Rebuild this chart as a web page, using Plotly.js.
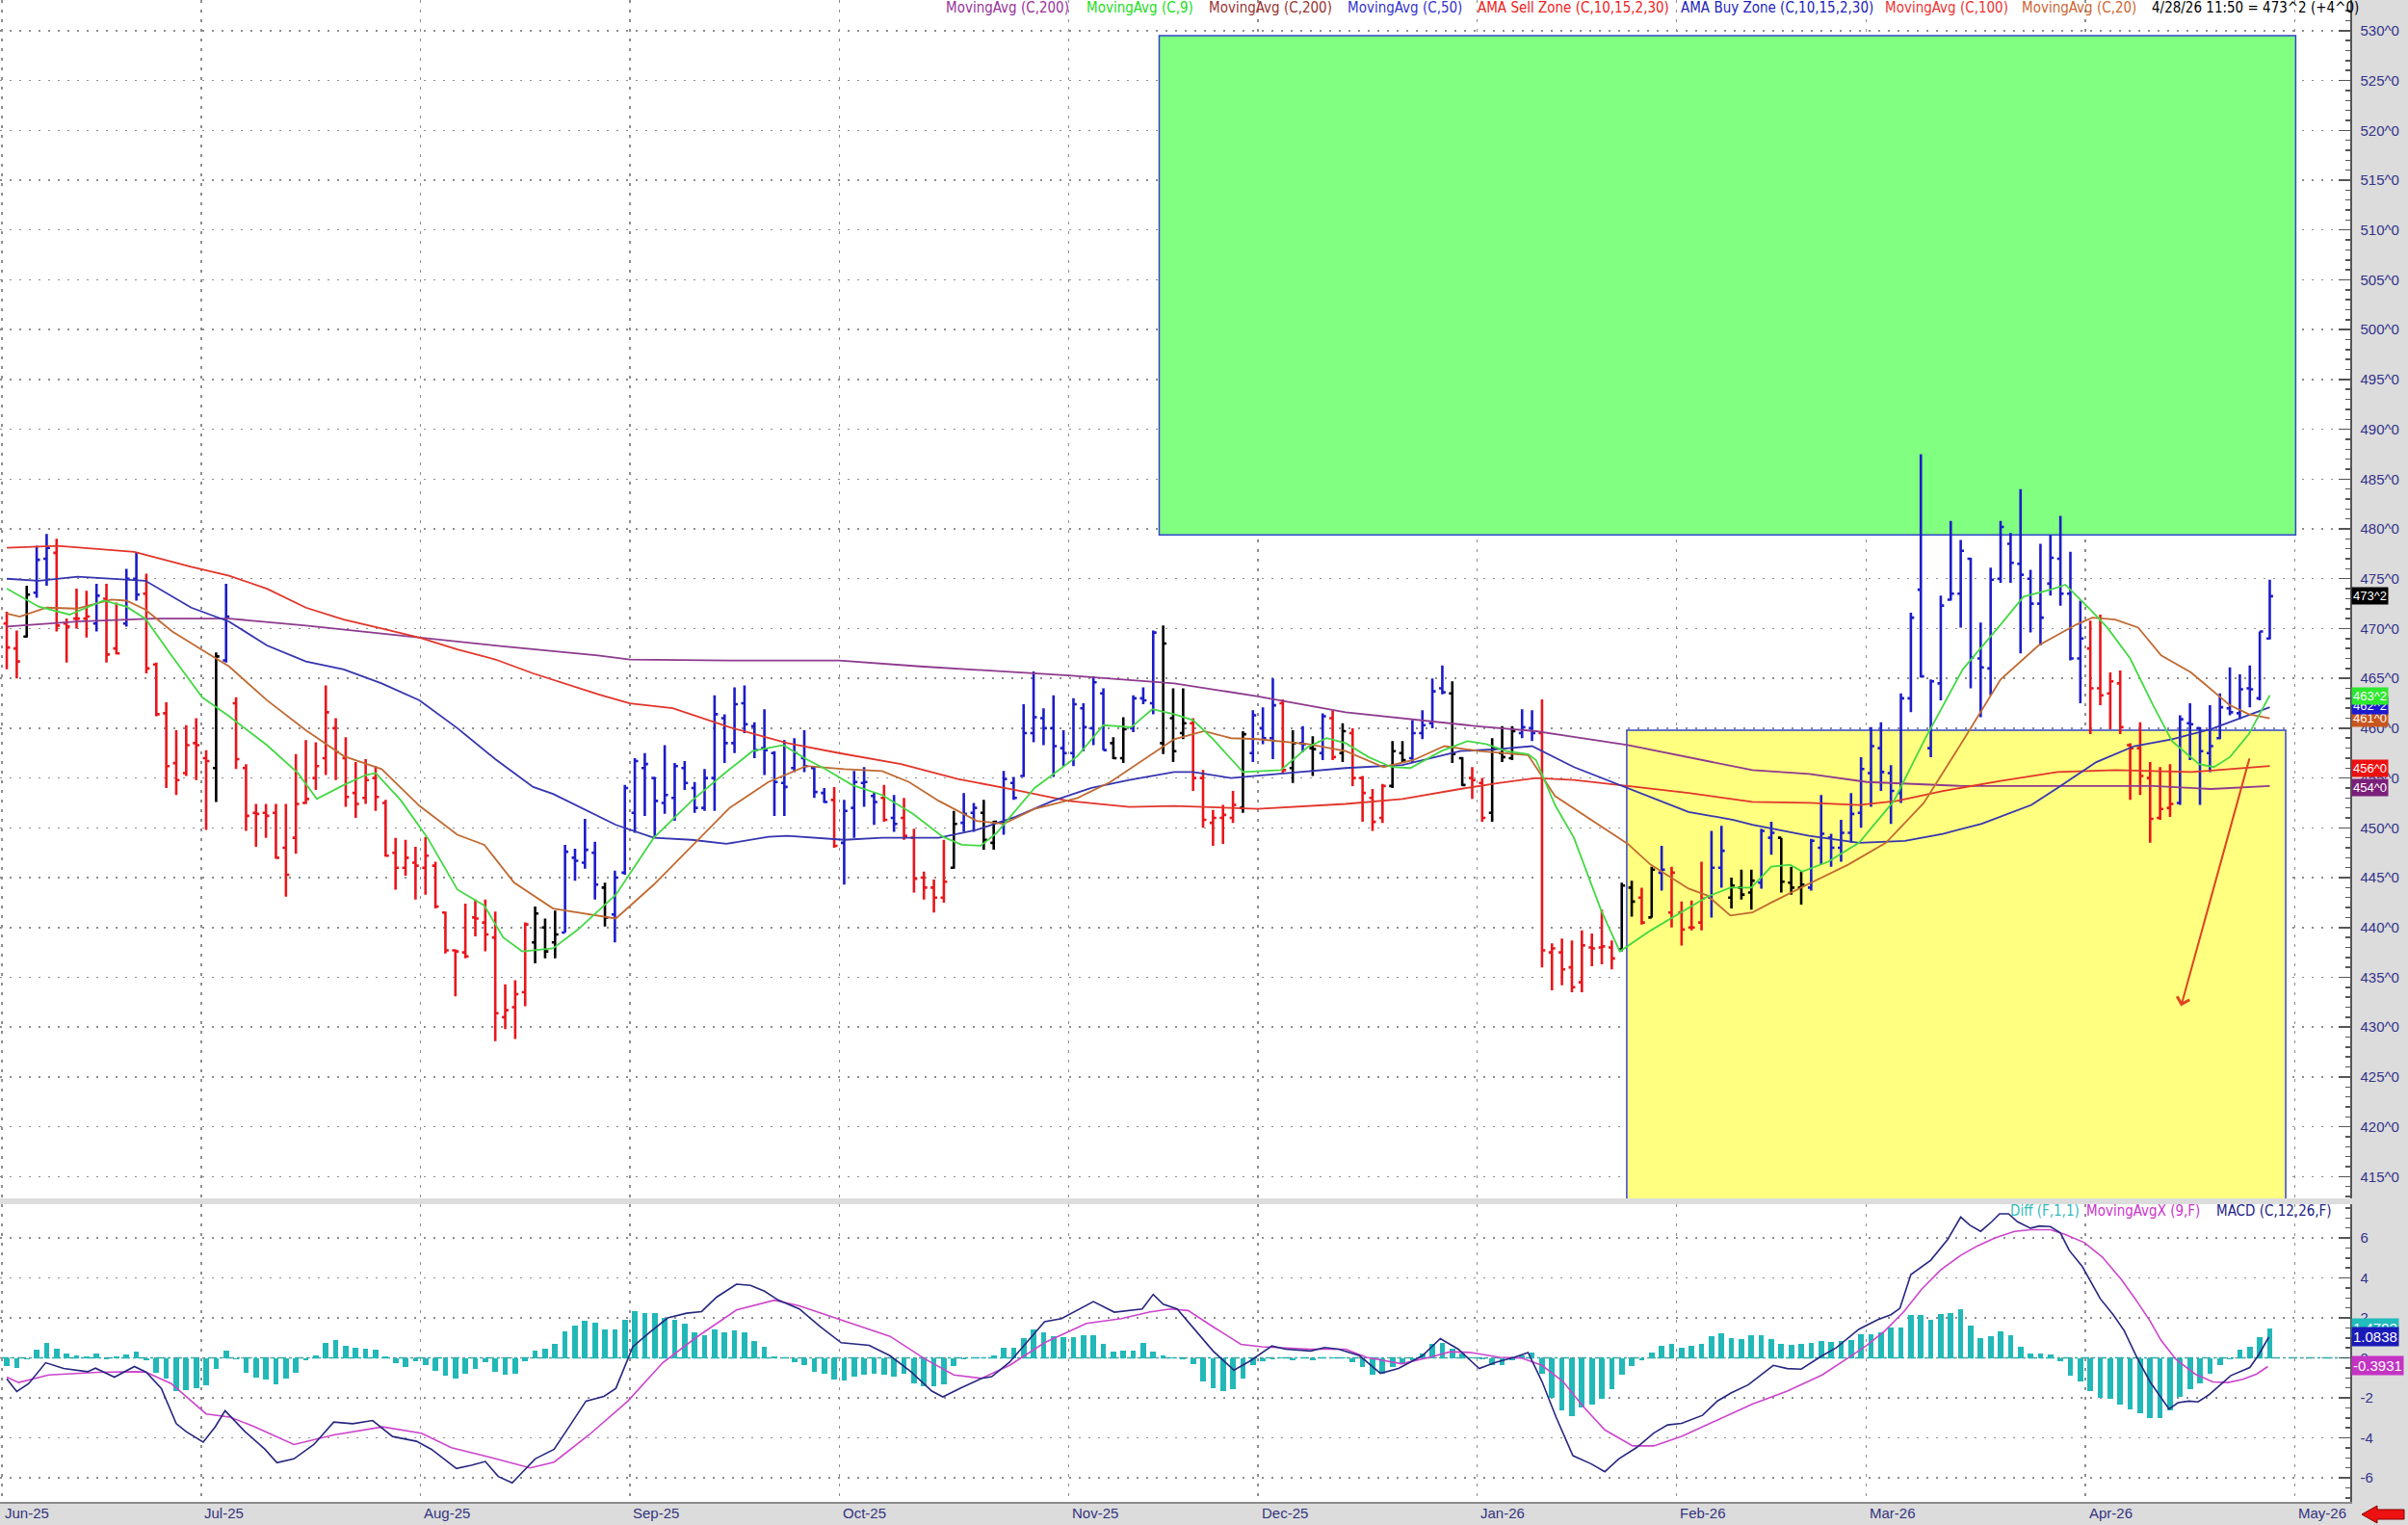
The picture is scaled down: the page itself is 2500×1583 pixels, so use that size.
<!DOCTYPE html>
<html><head><meta charset="utf-8">
<script src="https://cdn.plot.ly/plotly-3.0.1.min.js"></script>
<style>html,body{margin:0;padding:0;background:#d9d9d9;}#chart{width:2500px;height:1583px;}</style>
</head><body><div id="chart"></div>
<script>
// ---------- DATA ----------
const monthStarts = [0,20,42,63,84,107,126,148,168,187,209,230];
const monthLabels = ['Jun-25','Jul-25','Aug-25','Sep-25','Oct-25','Nov-25','Dec-25','Jan-26','Feb-26','Mar-26','Apr-26','May-26'];
const priceTicks = [415,420,425,430,435,440,445,450,455,460,465,470,475,480,485,490,495,500,505,510,515,520,525,530];
const priceTickText = ['415^0','420^0','425^0','430^0','435^0','440^0','445^0','450^0','455^0','460^0','465^0','470^0','475^0','480^0','485^0','490^0','495^0','500^0','505^0','510^0','515^0','520^0','525^0','530^0'];
const macdTicks = [-6,-4,-2,0,2,4,6];
const macdTickText = ['-6','-4','-2','0','2','4','6'];

const opens = [470.5,468,469.2,473.6,477,477.6,470.5,471,471,470.5,
473,468,470.5,475,473.5,466.4,461.5,456.5,455.5,458.5,
457,456,466.8,462.5,456,451.5,451.5,451.5,448,449,
452.5,455,457,460,457,453.5,453,455,452.5,447.5,
446,446.5,446,446.2,441.5,437.7,437.5,441,440.5,439,
431,432,433.5,438.5,440,438.5,439.5,447,446.5,447.5,
444,441.3,445.5,451.5,456,455,452.5,453,456,454,
452,455,461,458.5,462.5,460.2,458,457.5,454.5,456,
457,456,453.5,452.8,448.5,452,454.5,453.2,453,451,
451,449,445,444,443,446,450.5,451.5,451.5,448.5,
450.5,454.5,455.2,459.5,461,460,458,457.5,462,460,
463.5,458.5,457,460,463,462.5,458.5,461,459.5,460.5,
455,450.5,451,451,452,457.5,460,459,462.5,456,
458.5,458,457.5,461,457.5,459.5,455,453,451,454.2,
457.5,457,459.5,460.5,464,463.5,457,455,454.5,451.5,
457.5,457,459.5,460,459.5,437.5,437.5,436,434.5,438,
438,438,437.8,444,443,441,445.5,441.5,441.5,440,
440.5,443,446,443,444,443.5,444.5,449,449,444.5,
444,444,448,449,448,449.5,451.5,455.5,458,455.5,
453.5,463,473.9,458,464.5,472.9,473.5,477,467,466,
475,478.5,476.5,475,472.5,474.5,477,473.5,467,468,
464,463.5,464.5,458.3,458,455,451,452,452.5,460.5,
460,457.5,459,462,461.5,464,463,469];
const highs = [471.7,469.8,474.3,478.3,479.5,479.0,471.0,474.0,473.8,474.5,
474.5,472.6,476.0,477.6,475.5,466.6,462.6,459.8,460.3,461.0,
457.8,467.6,474.5,463.1,456.4,452.4,452.4,452.4,452.4,457.4,
458.8,458.6,464.3,461.0,459.1,456.6,456.9,456.2,452.8,449.0,
448.8,448.1,449.1,446.6,441.6,437.8,442.4,442.8,442.8,441.6,
434.3,434.7,440.5,442.1,440.9,441.7,448.3,447.9,450.9,448.6,
444.5,445.7,454.3,457.0,457.5,455.1,458.3,456.5,456.7,454.6,
455.9,463.3,461.4,464.1,464.3,460.6,461.9,457.7,458.8,459.0,
459.8,456.2,454.0,454.1,452.8,455.7,456.1,453.6,454.3,453.3,
453.0,449.9,445.6,444.8,448.8,451.7,453.5,452.5,452.8,450.7,
455.7,455.1,462.4,465.7,462.0,463.3,459.8,463.0,462.5,465.2,
464.0,459.1,461.1,463.3,464.1,469.8,470.3,464.0,464.0,461.0,
455.8,451.8,452.3,453.7,459.7,461.8,462.1,465.0,462.9,459.8,
460.2,459.2,461.5,461.8,460.5,460.0,455.2,453.9,454.4,458.7,
458.7,460.8,461.8,465.0,466.3,464.7,457.1,456.1,455.0,459.0,
460.2,460.2,461.9,461.8,462.9,438.4,438.9,438.7,439.7,439.4,
441.8,438.7,444.5,444.7,444.0,446.1,448.2,446.1,442.6,442.7,
446.6,449.7,450.2,445.0,445.8,445.8,449.9,450.6,449.0,446.1,
445.6,448.9,453.3,449.4,450.8,453.5,457.1,460.1,460.6,456.3,
463.5,471.6,487.5,464.9,473.3,480.8,478.9,477.1,470.6,476.1,
480.8,479.6,484.0,475.9,478.5,479.4,481.3,477.7,472.8,470.8,
471.4,465.6,465.8,458.5,460.6,456.6,456.1,456.4,461.3,462.5,
460.1,462.3,463.5,466.1,465.4,466.3,469.7,474.9];
const lows = [465.9,465.0,469.1,473.1,474.3,469.7,466.6,470.0,469.1,469.7,
466.6,467.4,470.2,472.8,465.5,461.2,454.0,453.3,455.2,454.8,
449.8,452.6,466.6,455.9,449.7,448.1,449.0,446.9,443.1,447.4,
452.4,453.8,455.3,454.8,452.1,451.0,452.4,451.7,447.1,443.8,
445.2,442.8,443.3,441.9,437.4,433.1,436.9,439.1,437.6,428.6,
429.8,428.8,432.1,436.4,436.9,436.9,439.5,444.7,445.9,442.8,
440.1,438.5,445.3,449.5,451.2,449.0,451.4,450.7,453.8,451.5,
451.7,451.7,456.5,457.5,459.5,457.0,455.3,451.2,451.2,455.6,
455.6,453.0,452.5,448.0,444.3,449.0,452.1,450.3,450.6,449.6,
448.8,443.5,442.8,441.5,442.5,445.9,449.6,449.6,447.8,447.8,
449.3,452.8,455.1,458.6,458.3,455.1,456.2,456.2,457.7,458.3,
457.8,456.9,456.5,459.6,462.4,461.4,457.4,456.6,458.9,453.7,
450.0,448.2,448.4,450.5,451.5,456.6,458.4,456.9,455.5,454.5,
457.6,455.2,456.8,456.8,456.6,454.2,450.6,449.7,450.5,454.0,
456.5,456.5,458.9,460.0,463.4,456.5,454.2,452.9,450.6,450.6,
456.6,456.8,459.0,458.7,436.0,433.7,434.2,433.5,433.5,436.1,
436.3,435.8,437.6,441.1,440.3,441.0,443.7,440.0,438.2,439.7,
439.7,441.0,444.0,441.9,442.8,441.8,443.9,447.3,443.5,443.3,
442.3,443.7,446.3,446.1,446.6,448.5,450.0,452.1,453.7,450.4,
452.5,461.6,465.1,457.1,462.8,472.8,470.1,464.0,461.1,463.3,
474.6,474.6,467.5,469.6,468.3,473.3,472.3,466.8,462.5,459.4,
462.3,459.9,459.4,452.8,453.3,448.5,450.8,451.1,452.3,456.8,
452.3,455.6,458.9,461.3,460.9,462.1,462.8,468.9];
const closes = [468.1,466.7,473.4,476.9,478.1,470.3,470.2,471.0,471.2,473.3,
467.4,467.5,475.0,473.4,466.0,461.4,456.2,454.8,458.3,458.3,
456.7,467.2,471.2,456.9,451.2,451.4,451.2,447.0,445.3,452.4,
452.9,456.2,461.6,457.6,453.1,452.4,454.8,453.1,447.2,446.0,
447.0,446.2,447.2,442.1,437.7,437.6,437.1,440.9,439.3,431.4,
431.7,433.3,440.3,441.4,437.6,439.3,447.6,446.7,447.8,444.3,
441.0,445.0,454.0,456.7,456.4,452.7,453.3,456.2,454.5,452.0,
455.0,461.4,458.5,462.4,460.4,457.8,457.8,454.6,454.1,457.5,
456.2,453.6,452.6,448.2,451.7,454.6,454.6,452.6,450.8,450.4,
449.2,444.9,444.0,443.0,444.6,450.4,451.4,452.0,448.8,450.6,
454.9,453.0,459.5,461.1,460.0,458.2,457.5,462.4,460.1,464.6,
457.8,457.0,459.9,463.0,462.8,469.6,468.5,457.7,460.5,455.0,
450.8,451.0,451.3,452.3,459.4,461.3,459.0,462.3,455.8,458.5,
458.4,457.9,461.2,457.1,459.7,455.0,453.5,450.6,454.2,457.7,
456.8,459.5,460.3,463.7,463.6,457.4,454.3,454.8,451.0,457.9,
457.1,459.7,460.1,459.5,437.7,437.9,435.8,434.0,438.2,437.9,
438.1,436.9,444.2,442.6,440.5,445.8,445.8,445.5,439.8,440.0,
442.9,446.0,447.7,444.2,443.3,444.7,449.7,449.5,444.6,444.0,
444.3,448.7,449.4,448.0,449.5,451.4,455.9,458.2,455.6,453.7,
463.0,471.1,465.2,464.7,472.3,473.5,477.8,467.1,466.1,474.9,
480.2,476.6,475.4,472.5,471.1,477.1,473.5,467.0,469.0,464.0,
463.3,464.7,460.1,458.0,455.2,450.9,451.9,452.4,460.9,460.4,
457.7,458.2,462.1,461.6,463.9,463.9,469.7,473.25];
// bar trend colour: R = red, B = blue, K = black
const barColor = ['R','R','K','B','B','R','R','R','R','B',
'R','R','B','B','R','R','R','R','R','R',
'R','K','B','R','R','R','R','R','R','R',
'R','R','R','R','R','R','R','R','R','R',
'R','R','R','R','R','R','R','R','R','R',
'R','R','R','K','K','K','B','B','B','B',
'K','B','B','B','B','B','B','B','B','B',
'B','B','B','B','B','B','B','B','B','B',
'B','B','B','R','B','B','B','B','R','B',
'R','R','R','R','R','K','B','B','K','K',
'B','B','B','B','B','B','B','B','B','B',
'B','K','K','B','B','B','K','K','K','R',
'R','R','R','R','K','B','B','B','R','K',
'B','K','B','R','K','R','R','R','R','K',
'K','B','B','B','B','K','K','R','R','K',
'K','K','B','B','R','R','R','R','R','R',
'R','R','K','K','R','K','B','R','R','R',
'R','B','B','K','K','K','B','B','K','K',
'K','B','B','B','B','B','B','B','B','B',
'B','B','B','B','B','B','B','B','B','B',
'B','B','B','B','B','B','B','B','B','R',
'R','R','R','R','R','R','R','R','B','B',
'B','B','B','B','B','B','B','B'];

const ma9X = [0,3.2,6.3,9.7,12,13.9,16.6,19.6,22.3,26.1,29.2,31.1,33.8,36,37,39.5,42.2,45.2,47.9,49.8,51.7,54.8,57.3,61.1,64.9,68.7,71.8,74.8,77.9,80.2,82.1,84.8,87.8,90.9,93.9,95.8,97.7,99.3,103.1,107.4,110,112.8,114.9,117.1,119,120.9,124,127.8,130.5,132.4,134.3,136.6,138.9,140.8,143.9,146.5,148.4,150.4,152.6,153.4,155.3,157.2,159.9,161.8,164.9,167.9,170.6,172.9,175,177,178.9,180.1,182.7,185.8,189.3,192.3,196.2,200,202.3,205,206.5,208.8,210.7,213,215.3,217.2,219.9,221.4,223,224.9,227];
const ma9Y = [474.0,472.2,471.4,472.8,472.2,471,467.2,463.1,461.2,458.3,455.5,452.9,454.3,455.3,455.5,452.8,449,443.8,442.2,439,437.6,437.9,439.8,443.3,449,452.7,455.3,457.7,458.3,456.9,455.9,454.3,453.3,451.4,449.1,448.3,448.2,449.5,454,457.2,460.3,460.1,461.9,461.4,460.8,459,455.6,455.8,458.1,459,458.5,457.1,456.1,456,457.7,458.7,458.4,457.7,457.4,456.8,452.3,449,441.8,437.6,439.7,441.5,443.1,444,444,446.1,446.3,445.6,446.6,448.5,452.7,458.7,465.9,470.4,473.2,473.9,474.4,472.1,470.1,467,462.3,458.7,456.4,456.1,457.1,459.4,463.3];
const ma20X = [0,1.3,4,7,10.5,12,13.9,16.6,20,22.3,26.1,30,33.8,37.6,41.4,45.2,47.9,50.9,54.8,59.3,61.1,64.9,68.7,72.5,76.4,80.2,84,87.8,90.5,93.5,97.3,100,103.1,107.4,110.7,114.5,117.1,120.1,122.8,125.5,130.5,134.3,138.1,141.1,144.2,147.7,152.6,155.3,159.2,162.6,164.9,168.7,170.6,172.9,175.1,177,180.8,184.7,188.5,192.3,196.2,200,203.8,207.6,209.2,211.5,213.8,216.1,219.1,221.1,223,224.9,227];
const ma20Y = [471.5,471.2,472.1,472,472.9,472.8,471.9,469.7,467.6,466.2,462.8,459.8,457.2,455.9,452.2,449.3,448.3,444.5,441.9,441.2,440.9,444.3,448.2,452,454.6,456.2,455.9,455.7,454.6,452.7,450.7,450.4,451.9,453,454.6,457.2,458.9,459.7,459,458.9,458.4,457.7,456.1,456.8,458.2,457.7,457.3,453.2,450.6,448.4,446.3,443.9,443.2,441.2,441.5,442.5,444.4,446.3,448.5,452.5,458.7,464.9,468.3,470.4,471.1,470.9,470.1,467.3,465.6,463.9,462.3,461.4,461];
const ma50X = [0,3.2,7.1,10.9,13.9,18.5,22.3,26.1,30,33.8,37.6,41.4,45.2,49,52.8,54.8,59.3,61.1,64.9,68.7,72.2,76.4,78.3,84,87.8,93.5,97.3,101.2,104.9,108.8,112.6,117.1,119,122.8,128.6,134.3,140,145.8,149.6,153,157.2,162.6,168.7,173.2,175.1,180.8,185.8,190.4,194.2,198.1,203.1,205.7,209.6,213.4,217.2,221.1,227];
const ma50Y = [475,474.8,475.2,475,474.8,472.1,470.7,468.3,466.7,465.9,464.5,462.8,460,456.9,454.1,453.4,451.2,450.3,449,448.8,448.4,449.1,449.2,448.8,449,449,449.8,451.1,452.7,454,454.8,455.6,455.6,455,455.5,456,456.3,457.7,457.9,458.2,456.1,454,451.6,450.8,450.3,449.2,448.5,448.7,449.4,450.4,452.3,454.0,456.6,458.2,458.9,459.9,462.1];
const ma100X = [0,5.1,12.8,18.5,22.3,26.1,30,33.8,37.6,41.4,45.2,49,52.8,59.3,62.5,66.8,72.5,78.3,83.5,89.7,95.4,101.2,106.5,112.6,117.1,125.5,134.3,140,145.8,149.6,153.4,157.2,162.6,168.7,175.1,180.8,185.8,189.6,194.2,200,205.7,211.5,219.1,227];
const ma100Y = [478.1,478.3,477.7,476.2,475.3,474,472.1,470.9,470,469.1,467.9,466.9,465.5,463.4,462.5,462,460.1,458.5,457.5,456.4,454.9,453.8,452.7,452.1,452.2,451.9,452.4,452.9,453.9,454.5,455,454.8,454.2,453.5,452.6,452.5,452.3,452.7,453.7,454.7,455.6,455.8,455.6,456.2];
const ma200X = [0,7.1,14.7,22.3,30,37.6,41.4,49,59.3,62.5,72.5,83.5,91.6,99.3,106.5,117.1,125.5,134.3,147.5,153.4,162.6,175.1,180.8,186.6,196.2,207.6,215.3,221.1,227];
const ma200Y = [470.2,470.7,471,471,470.3,469.5,469.1,468.3,467.3,466.9,466.8,466.8,466.2,465.7,465.3,464.5,463.2,461.6,460.2,459.7,458.3,455.8,455.4,454.6,454.2,454.2,454.2,453.9,454.2];

// AMA zones
const sellZoneX = [115.6, 229.6];
const sellZoneY = [479.4, 529.5];
const buyZoneX = [162.5, 228.6];
const buyZoneY = [405, 459.8];
// hand-drawn arrow: start (x,y) -> end (x,y)
const drawnArrow = [225.0, 457.1, 218.1, 432.1];

// MACD panel
const macdHist = [-0.4,-0.48,-0.05,0.4,0.77,0.45,0.24,0.11,0.08,0.24,
-0.05,0.08,0.16,0.32,-0.13,-0.72,-1.04,-1.68,-1.6,-1.52,
-1.39,-0.56,0.35,-0.05,-0.72,-0.96,-1.07,-1.33,-1.04,-0.72,
-0.11,0.11,0.77,0.88,0.62,0.53,0.48,0.43,0.08,-0.27,
-0.43,-0.16,-0.37,-0.64,-0.91,-1.04,-0.8,-0.53,-0.19,-0.69,
-0.83,-0.8,-0.16,0.37,0.45,0.69,1.33,1.63,1.88,1.75,
1.41,1.44,1.92,2.36,2.24,2.24,2.0,1.92,1.71,1.28,
1.12,1.41,1.28,1.39,1.28,0.86,0.54,0.1,0.01,-0.2,
-0.37,-0.69,-0.77,-1.1,-1.15,-0.94,-0.85,-0.77,-0.85,-0.94,
-0.77,-1.26,-1.42,-1.42,-1.31,-0.4,-0.05,0.02,0.02,0.11,
0.52,0.52,1.0,1.44,1.27,1.08,1.05,1.05,1.16,1.16,
0.68,0.31,0.35,0.35,0.76,0.31,0.11,0.02,-0.05,-0.29,
-1.18,-1.5,-1.66,-1.58,-1.02,-0.37,-0.18,-0.05,0.02,-0.1,
0.02,-0.13,0.03,0.02,0.02,-0.21,-0.45,-0.82,-0.77,-0.45,
-0.29,-0.1,0.24,0.68,0.76,0.47,0.24,0.02,-0.08,-0.37,
-0.34,-0.13,0.11,0.27,-0.77,-1.98,-2.63,-2.9,-2.47,-2.31,
-2.06,-1.58,-0.85,-0.4,-0.13,0.27,0.63,0.68,0.52,0.63,
0.68,1.11,1.21,1.0,0.92,1.16,1.16,0.92,0.68,0.65,
0.71,0.76,0.87,0.78,0.86,0.91,1.2,1.2,1.28,1.52,
1.52,2.16,2.13,1.92,2.2,2.24,2.44,1.63,1.01,1.07,
1.31,1.12,0.56,0.24,0.24,0.16,-0.16,-0.88,-1.2,-1.68,
-2.0,-2.04,-2.32,-2.56,-2.77,-3.01,-3.01,-2.64,-1.97,-1.57,
-1.28,-0.8,-0.35,-0.05,0.43,0.56,1.04,1.47];
const macdX = [0,1.0,2.2,3.9,5.7,8.1,8.9,10.8,12.8,14.0,15.5,17.0,18.0,19.7,20.9,21.9,23.9,25.9,27.1,28.8,30.8,32.8,34.7,36.7,38.7,41.1,42.6,45.1,46.6,48.0,49.3,50.7,53.0,54.9,56.4,58.1,59.9,61.1,62.8,64.3,66.3,68.2,69.7,71.2,73.2,74.6,76,77.4,79.5,81.6,83.7,86.5,88.6,90.7,92.8,93.9,95.7,97.8,98.8,100.6,102.7,104.1,105.8,107.3,109,111.1,112.9,113.9,115,116,117.4,119.5,121,123.1,124.8,126.9,128.3,130.8,132.2,133.6,135.7,137.8,139.6,142,143.8,145.6,147.7,149.4,151.2,152.6,154,155.4,157.1,158.9,160.3,161.7,163.5,165.2,166.6,168,170.1,171.6,173,174.7,177.2,178.6,180,182.1,183.5,185.8,187.7,189,189.9,191,191.9,193,194.7,196,196.9,198,199.1,199.9,200.8,201.7,203,203.9,205,206,206.9,208.2,210,211.3,212.4,213.7,215,216.1,216.9,217.8,218.9,219.8,220.9,222,223.1,225,225.9,226.9];
const macdY = [-1.04,-1.68,-1.28,-0.24,-0.53,-0.69,-0.51,-0.96,-0.43,-0.72,-1.52,-3.29,-3.69,-4.21,-3.45,-2.64,-3.69,-4.57,-5.24,-5.05,-4.33,-3.21,-3.29,-3.13,-3.93,-4.17,-4.57,-5.53,-5.37,-5.18,-5.93,-6.25,-5.05,-4.57,-3.45,-2.16,-1.92,-1.52,0.56,1.2,2.0,2.24,2.32,3.04,3.69,3.63,3.34,2.89,2.45,1.56,0.76,0.63,0.11,-0.69,-1.66,-1.95,-1.5,-1.02,-0.94,-0.21,1.0,1.81,1.97,2.37,2.82,2.29,2.37,2.45,3.18,2.69,2.45,1.24,0.35,-0.61,-0.13,0.6,0.44,0.35,0.52,0.44,0.11,-0.77,-0.53,0.11,0.97,0.44,-0.53,-0.21,0.03,0.27,-1.18,-2.95,-4.89,-5.29,-5.69,-5.05,-4.48,-3.76,-3.35,-3.27,-2.87,-2.15,-1.74,-1.34,-0.37,-0.53,-0.56,0.11,0.5,1.44,1.92,2.16,2.48,4.17,4.49,4.89,5.93,7.05,6.65,6.33,6.81,7.21,7.21,6.81,6.49,6.6,6.57,6.25,5.37,4.57,2.96,2.16,1.36,0,-1.2,-2.0,-2.56,-2.24,-2.16,-2.2,-1.84,-1.36,-0.88,-0.48,0.16,1.04];
const signalX = [0,1.2,4.2,9.1,13.1,14,16.5,20,22.4,24.9,28.8,32.8,37.7,41.6,44.6,48.5,52.5,54.9,58.4,62.3,65.8,69.2,73.2,77,79.5,83.7,88.6,92.1,95,97.8,100.6,104.1,108.3,111.8,114.6,116.7,118.5,121,123.8,125.9,130.8,134.3,136.4,139.9,142.7,144.8,146.9,149.8,151.9,154,156.1,158.2,160.3,163.1,165.2,168,171.6,175.1,178.6,182.1,184.7,186.6,188.4,190.3,192.1,194,196,197.7,199.5,201.4,203,205,206.5,208.4,210.2,212.1,213.5,215,216.1,217.6,219.5,221.3,222.8,224.3,225.7,226.8];
const signalY = [-0.96,-1.23,-0.85,-0.72,-0.69,-0.72,-1.28,-2.8,-2.96,-3.45,-4.33,-3.85,-3.45,-3.77,-4.49,-4.97,-5.5,-5.21,-3.85,-2.16,-0.24,1.04,2.4,2.89,2.61,1.89,1.08,-0.05,-0.85,-1.02,-0.37,0.76,1.73,1.97,2.29,2.45,2.37,1.56,0.68,0.56,0.44,0.44,0.03,-0.29,0.03,0.31,0.27,0.03,0,-0.37,-1.18,-2.47,-3.6,-4.4,-4.4,-3.92,-3.11,-2.31,-1.66,-0.85,0,0.64,1.36,2.32,3.45,4.41,5.13,5.61,6.01,6.33,6.41,6.41,6.17,5.77,5.05,3.93,2.96,1.84,0.88,-0.08,-0.8,-1.2,-1.23,-1.07,-0.8,-0.43];

// last-value tags on the right axes
const priceTagVals = [473.25, 461.0, 462.25, 463.25, 456.0, 454.0];
const priceTagText = ['473^2','461^0','462^2','463^2','456^0','454^0'];
const priceTagColor = ['#000000','#c8561e','#1a1ad0','#2ee82e','#ee1111','#7b1f7b'];
const macdTagVals = [1.4792, 1.0838, -0.3931];
const macdTagText = ['1.4792','1.0838','-0.3931'];
const macdTagColor = ['#22bcbc','#1a1ab8','#c433c4'];

const topLegendText = ['MovingAvg (C,200)','MovingAvg (C,9)','MovingAvg (C,200)','MovingAvg (C,50)','AMA Sell Zone (C,10,15,2,30)','AMA Buy Zone (C,10,15,2,30)','MovingAvg (C,100)','MovingAvg (C,20)','4/28/26 11:50 = 473^2 (+4^0)'];
const topLegendColor = ['#993399','#22dd22','#993333','#3333cc','#ee2222','#2222bb','#ee3333','#cc6633','#000000'];
const topLegendPos = [980,1126,1253,1397,1532,1743,1955,2097,2232];
const macdLegendText = ['Diff (F,1,1)','MovingAvgX (9,F)','MACD (C,12,26,F)'];
const macdLegendColor = ['#33bbbb','#cc33cc','#222288'];
const macdLegendPos = [2085,2164,2299];

// ---------- BUILD ----------
const PW = 2440, PH = 1559;
const colorMap = {R:'#e8161b', B:'#1c1cc8', K:'#000000'};
const traces = [];
const maDefs = [
  [ma200X, ma200Y, '#8e3a8e'],
  [ma100X, ma100Y, '#e2352a'],
  [ma50X, ma50Y, '#3535b0'],
  [ma20X, ma20Y, '#c06a32'],
  [ma9X, ma9Y, '#44d844']
];
maDefs.forEach(d => traces.push({type:'scatter', mode:'lines', x:d[0], y:d[1], xaxis:'x', yaxis:'y',
  line:{color:d[2], width:1.8}, hoverinfo:'skip', showlegend:false}));

['R','B','K'].forEach(code => {
  const xs=[],o=[],h=[],l=[],c=[];
  barColor.forEach((bc,i)=>{ if(bc===code){ xs.push(i); o.push(opens[i]); h.push(highs[i]); l.push(lows[i]); c.push(closes[i]); }});
  traces.push({type:'ohlc', x:xs, open:o, high:h, low:l, close:c, xaxis:'x', yaxis:'y',
    increasing:{line:{color:colorMap[code], width:2.6}}, decreasing:{line:{color:colorMap[code], width:2.6}},
    line:{width:2.6}, tickwidth:0.33, hoverinfo:'skip', showlegend:false});
});

traces.push({type:'bar', x:macdHist.map((v,i)=>i), y:macdHist, xaxis:'x', yaxis:'y2',
  marker:{color:'#22b8b8', line:{width:0}}, width:0.55, hoverinfo:'skip', showlegend:false});
traces.push({type:'scatter', mode:'lines', x:signalX, y:signalY, xaxis:'x', yaxis:'y2',
  line:{color:'#cc44cc', width:1.6}, hoverinfo:'skip', showlegend:false});
traces.push({type:'scatter', mode:'lines', x:macdX, y:macdY, xaxis:'x', yaxis:'y2',
  line:{color:'#262680', width:1.6}, hoverinfo:'skip', showlegend:false});

const shapes = [
  {type:'rect', xref:'x', yref:'y', x0:sellZoneX[0], x1:sellZoneX[1], y0:sellZoneY[0], y1:sellZoneY[1],
    fillcolor:'#80ff80', line:{color:'#3344cc', width:1.5}, layer:'between'},
  {type:'rect', xref:'x', yref:'y', x0:buyZoneX[0], x1:buyZoneX[1], y0:buyZoneY[0], y1:buyZoneY[1],
    fillcolor:'#ffff80', line:{color:'#3344cc', width:1.5}, layer:'between'},
  {type:'line', xref:'paper', yref:'y2', x0:0, x1:1, y0:0, y1:0,
    line:{color:'#2aaaaa', width:1.5, dash:'dashdot'}, layer:'between'}
];
// small red arrow icon bottom right (paper coords)
const px = v => v / PW, py = v => (PH - v) / PH;
shapes.push({type:'path', xref:'paper', yref:'paper',
  path:`M${px(2452)},${py(1572)} L${px(2468)},${py(1563)} L${px(2468)},${py(1567)} L${px(2496)},${py(1567)} L${px(2496)},${py(1577)} L${px(2468)},${py(1577)} L${px(2468)},${py(1581)} Z`,
  fillcolor:'#ee1111', line:{color:'#880000', width:1}, layer:'above'});

const annotations = [];
const narrow = 'Liberation Sans Narrow, Arial Narrow, DejaVu Sans Condensed, sans-serif';
topLegendText.forEach((t,i)=>annotations.push({xref:'paper', yref:'paper', x:px(topLegendPos[i]), y:py(8),
  xanchor:'left', yanchor:'middle', text:t, showarrow:false, font:{family:narrow, size:15, color:topLegendColor[i]}}));
macdLegendText.forEach((t,i)=>annotations.push({xref:'paper', yref:'paper', x:px(macdLegendPos[i]), y:py(1257),
  xanchor:'left', yanchor:'middle', text:t, showarrow:false, font:{family:narrow, size:15, color:macdLegendColor[i]}}));
monthLabels.forEach((t,i)=>annotations.push({xref:'x', yref:'paper', x:monthStarts[i]-0.35, y:py(1570),
  xanchor:'left', yanchor:'middle', text:t, showarrow:false, font:{family:'Liberation Sans, Arial, sans-serif', size:15, color:'#34347e'}}));
priceTagVals.forEach((v,i)=>annotations.push({xref:'paper', yref:'y', x:1.0003, y:v, xanchor:'left', yanchor:'middle',
  text:priceTagText[i], showarrow:false, bgcolor:priceTagColor[i], borderpad:1,
  font:{family:'Liberation Sans, Arial, sans-serif', size:13, color:'#ffffff'}}));
macdTagVals.forEach((v,i)=>annotations.push({xref:'paper', yref:'y2', x:1.0003, y:v, xanchor:'left', yanchor:'middle',
  text:macdTagText[i], showarrow:false, bgcolor:macdTagColor[i], borderpad:1,
  font:{family:'Liberation Sans Narrow, Arial Narrow, sans-serif', size:15, color:'#ffffff'}}));
annotations.push({xref:'x', yref:'y', axref:'x', ayref:'y', x:drawnArrow[2], y:drawnArrow[3], ax:drawnArrow[0], ay:drawnArrow[1],
  text:'', showarrow:true, arrowhead:4, arrowsize:1.3, arrowwidth:2, arrowcolor:'#dd4422'});

const gridCol = '#8e8e8e';
const hDots = '1.5px,8.5px';
const vDash = '3px,7px';
const layout = {
  width:2500, height:1583,
  margin:{l:0, r:60, t:0, b:24, pad:0},
  paper_bgcolor:'#dcdcdc', plot_bgcolor:'#ffffff',
  showlegend:false, bargap:0,
  xaxis:{anchor:'y2', range:[-0.68, 235.07], tickmode:'array', tickvals:monthStarts.map(v=>v-0.5),
    showticklabels:false, ticks:'', showgrid:true, gridcolor:gridCol, gridwidth:1.5, griddash:vDash,
    zeroline:false, showline:true, linecolor:'#8a8a8a', linewidth:1.5, rangeslider:{visible:false}, fixedrange:true},
  yaxis:{domain:[(PH-1244)/PH, 1], side:'right', range:[412.81, 533.08], tickmode:'array', tickvals:priceTicks, ticktext:priceTickText,
    ticks:'inside', ticklen:12, tickwidth:1.5, tickcolor:'#555',
    minor:{tickmode:'linear', tick0:0, dtick:1, ticks:'inside', ticklen:5, tickcolor:'#555', showgrid:false},
    showgrid:true, gridcolor:gridCol, gridwidth:1.5, griddash:hDots, zeroline:false,
    showline:true, linecolor:'#555', linewidth:1.5, ticklabelstandoff:6,
    tickfont:{family:'Liberation Sans, Arial, sans-serif', size:15, color:'#33338a'}},
  yaxis2:{domain:[0, (PH-1250)/PH], side:'right', range:[-7.2, 7.69], tickmode:'array', tickvals:macdTicks, ticktext:macdTickText,
    ticks:'inside', ticklen:12, tickwidth:1.5, tickcolor:'#555',
    minor:{tickmode:'linear', tick0:0, dtick:0.5, ticks:'inside', ticklen:5, tickcolor:'#555', showgrid:false},
    showgrid:true, gridcolor:gridCol, gridwidth:1.5, griddash:hDots, zeroline:false,
    showline:true, linecolor:'#555', linewidth:1.5, ticklabelstandoff:6,
    tickfont:{family:'Liberation Sans, Arial, sans-serif', size:15, color:'#33338a'}},
  shapes:shapes, annotations:annotations
};
Plotly.newPlot('chart', traces, layout, {staticPlot:true, displayModeBar:false});
</script></body></html>
